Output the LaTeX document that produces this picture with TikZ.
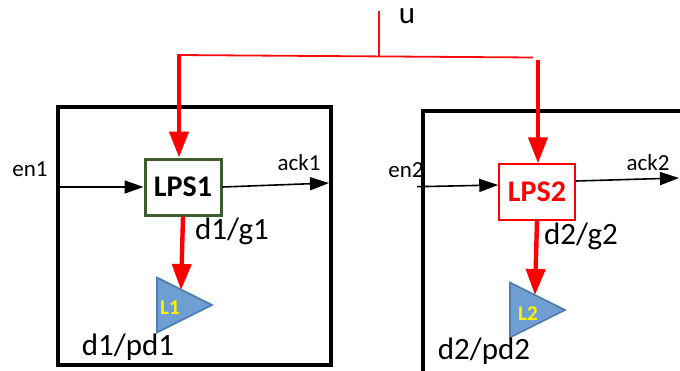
\documentclass[tikz,border=0pt]{standalone}
\usepackage{fontspec}
\setmainfont{Carlito}
\usetikzlibrary{arrows.meta,shapes.geometric}
\definecolor{lpsgreen}{HTML}{3E5C2E}
\definecolor{loadfill}{HTML}{6F9FD2}
\definecolor{loadline}{HTML}{4F7FB0}
\definecolor{wirered}{HTML}{F50D0D}
\tikzset{
  x=1pt,y=-1pt,
  frame/.style={draw=black,line width=4.6pt,line join=miter},
  thinarrow/.style={draw=black,line width=1.6pt,-{Triangle[length=19pt,width=13pt]}},
  redarrow/.style={draw=red,line width=4.4pt,-{Triangle[length=26pt,width=19pt]}},
  redwire/.style={draw=wirered,line width=1.8pt},
  lpsgreenbox/.style={draw=lpsgreen,line width=3pt,fill=white,minimum width=76pt,minimum height=56pt,inner sep=0pt,font=\fontsize{30}{32}\selectfont\bfseries},
  lpsredbox/.style={draw=red,line width=1.5pt,fill=white,text=red,minimum width=76pt,minimum height=56pt,inner sep=0pt,font=\fontsize{30}{32}\selectfont\bfseries},
  loadtri/.style={shape=isosceles triangle,isosceles triangle apex angle=53,minimum height=55pt,inner sep=0pt,draw=loadline,fill=loadfill,line width=1.8pt,anchor=lower side},
  loadtext/.style={text=yellow,font=\fontsize{21}{22}\selectfont\bfseries,inner sep=0pt},
  small/.style={font=\fontsize{23}{25}\selectfont,inner sep=0pt},
  big/.style={font=\fontsize{31}{33}\selectfont,inner sep=0pt},
}
\begin{document}
\begin{tikzpicture}
\useasboundingbox[fill=white] (0,0) rectangle (680,370);
\node[frame,minimum width=273pt,minimum height=258pt,inner sep=0pt] (box1) at (194.5,236) {};
\begin{scope}
\clip (0,0) rectangle (680,370);
\draw[frame] (690,111) -- (423,111) -- (423,380);
\end{scope}
\coordinate (box2w) at (417,186.7);
\coordinate (box2e) at (679,178);
\node[lpsgreenbox] (lps1) at (183,187) {LPS1};
\node[lpsredbox] (lps2) at (537,192) {LPS2};
\coordinate (lps2in) at ([yshift=7pt]lps2.west);
\coordinate (lps2out) at ([yshift=11pt]lps2.east);
\node[loadtri] (l1) at (156,305) {};
\node[loadtri] (l2) at (509,310) {};
\node[loadtext] (l1t) at (170,308) {L1};
\node[loadtext] (l2t) at (528,314) {L2};
\coordinate (l1hit) at (181,290);
\coordinate (l2hit) at (535,295);
\coordinate (utop) at (379,11);
\coordinate (ujoin) at (379,55.5);
\coordinate (busl) at (177,55);
\coordinate (busr) at (533,57.5);
\coordinate (drop1) at (179,56);
\coordinate (drop2) at (538,60);
\coordinate (en1in) at (59,187);
\coordinate (ack1out) at (329,183);
\draw[redwire] (utop) -- (ujoin);
\draw[redwire] (busl) -- (busr);
\draw[redarrow] (drop1) -- (lps1.north -| drop1);
\draw[redarrow] (drop2) -- (lps2.north -| drop2);
\draw[redarrow] (lps1.south) -- (l1hit);
\draw[redarrow] (lps2.south) -- (l2hit);
\draw[thinarrow] (en1in) -- (lps1.west);
\draw[thinarrow] (box2w) -- (lps2in);
\draw[thinarrow] (lps1.east) -- (ack1out);
\draw[thinarrow] (lps2out) -- (box2e);
\node[big] (u) at (407,16) {u};
\node[small] (en1) at (30,169) {en1};
\node[small] (en2) at (406,170) {en2};
\node[small] (ack1) at (299,163) {ack1};
\node[small] (ack2) at (648,163) {ack2};
\node[big] (g1) at (232,231) {d1/g1};
\node[big] (g2) at (581,236) {d2/g2};
\node[big] (pd1) at (128,347) {d1/pd1};
\node[big] (pd2) at (484,351) {d2/pd2};
\end{tikzpicture}
\end{document}
